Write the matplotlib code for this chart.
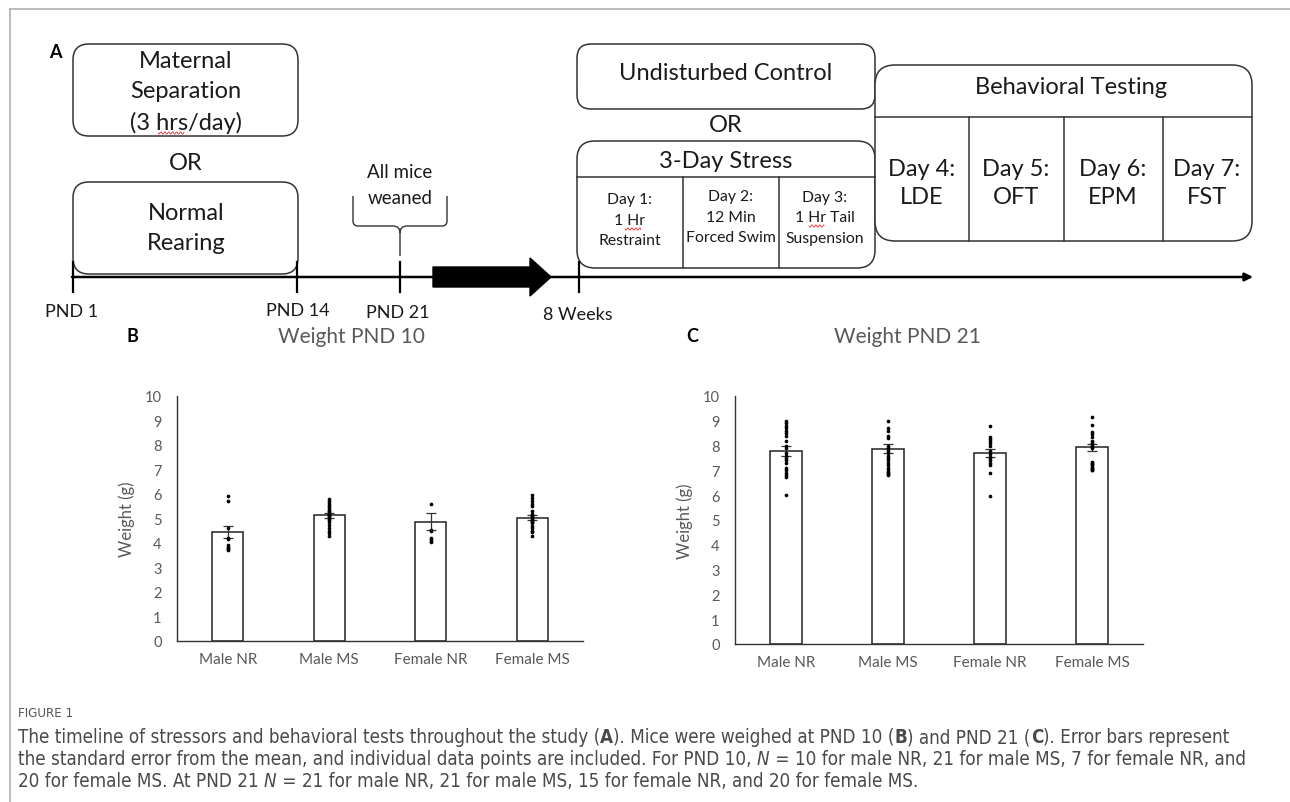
import numpy as np
import matplotlib
matplotlib.use('Agg')
import matplotlib.pyplot as plt
from matplotlib import font_manager
from matplotlib.patches import FancyBboxPatch, PathPatch, Polygon
from matplotlib.path import Path

plt.rcParams['font.family'] = ['Lato', 'DejaVu Sans']

# ---------- data (panels B and C) ----------
categories = ['Male NR', 'Male MS', 'Female NR', 'Female MS']

pnd10_mean = [4.45, 5.13, 4.87, 5.03]
pnd10_sem = [0.23, 0.10, 0.35, 0.10]
pnd10_points = [
    [5.93, 5.72, 4.62, 4.20, 4.15, 3.92, 3.85, 3.80, 3.75, 3.70],
    [5.78, 5.70, 5.62, 5.55, 5.50, 5.42, 5.35, 5.30, 5.25, 5.20, 5.15,
     5.10, 5.05, 5.00, 4.95, 4.85, 4.75, 4.60, 4.50, 4.40, 4.30],
    [5.58, 4.52, 4.48, 4.20, 4.15, 4.10, 4.05],
    [5.95, 5.85, 5.70, 5.60, 5.50, 5.30, 5.20, 5.15, 5.10, 5.05, 5.00,
     4.95, 4.90, 4.85, 4.80, 4.70, 4.60, 4.50, 4.45, 4.30],
]

pnd21_mean = [7.80, 7.88, 7.70, 7.93]
pnd21_sem = [0.20, 0.17, 0.17, 0.13]
pnd21_points = [
    [9.00, 8.90, 8.80, 8.70, 8.60, 8.50, 8.40, 8.20, 8.00, 7.90, 7.70,
     7.60, 7.50, 7.40, 7.30, 7.10, 7.00, 6.90, 6.80, 6.75, 6.00],
    [9.00, 8.70, 8.60, 8.40, 8.30, 8.00, 7.90, 7.85, 7.80, 7.70, 7.60,
     7.50, 7.40, 7.30, 7.20, 7.10, 7.00, 6.95, 6.90, 6.85, 6.80],
    [8.80, 8.35, 8.25, 8.20, 8.10, 8.00, 7.80, 7.65, 7.55, 7.50, 7.40,
     7.30, 7.20, 6.90, 5.95],
    [9.15, 8.85, 8.55, 8.45, 8.35, 8.20, 8.10, 8.05, 8.00, 7.95, 7.90,
     7.35, 7.30, 7.25, 7.20, 7.15, 7.10, 7.05, 7.00, 7.00],
]

W, H = 1290, 803
fig = plt.figure(figsize=(W / 100, H / 100), dpi=100)
fig.patch.set_facecolor('white')

# overlay axes in pixel coordinates for the timeline diagram
ov = fig.add_axes([0, 0, 1, 1])
ov.set_xlim(0, W)
ov.set_ylim(H, 0)
ov.set_axis_off()

TXT = '#1a1a1a'
GRAY = '#595959'
BIG = 17
MID = 13
SMALL = 11.3

# card border (top and left)
ov.plot([10, W], [10, 10], color='#b0b0b0', lw=1.2)
ov.plot([10, 10], [10, H], color='#b0b0b0', lw=1.2)


def rbox(x0, y0, x1, y1, r=14):
    p = FancyBboxPatch((x0 + r, y0 + r), (x1 - x0) - 2 * r, (y1 - y0) - 2 * r,
                       boxstyle='round,pad=%d,rounding_size=%d' % (r, r),
                       fc='white', ec='#333333', lw=1.1)
    ov.add_patch(p)


def t(x, y, s, size=BIG, **kw):
    return ov.text(x, y, s, fontsize=size, color=kw.pop('color', TXT),
                   ha=kw.pop('ha', 'center'), va=kw.pop('va', 'center'), **kw)


def squiggle(x0, x1, y):
    xs = np.linspace(x0, x1, int((x1 - x0) * 1.5))
    ov.plot(xs, y + 1.2 * np.sin((xs - x0) * 1.6), color='#e03030', lw=0.6)


# panel A
t(55, 52, 'A', size=13, weight='bold', color='black')

rbox(73, 45, 298, 137, r=16)
t(186, 61, 'Maternal')
t(186, 92, 'Separation')
t(186, 123, '(3 hrs/day)')
squiggle(158, 184, 134)
t(186, 163, 'OR')
rbox(73, 183, 298, 275, r=16)
t(186, 213, 'Normal')
t(186, 243, 'Rearing')

# brace over PND 21
verts = [(353, 197), (353, 222), (353, 227), (358, 227), (393, 227),
         (400, 227), (400, 234), (400, 257),
         (447, 197), (447, 222), (447, 227), (442, 227), (407, 227),
         (400, 227), (400, 234)]
codes = [Path.MOVETO, Path.LINETO, Path.CURVE3, Path.CURVE3, Path.LINETO,
         Path.CURVE3, Path.CURVE3, Path.LINETO,
         Path.MOVETO, Path.LINETO, Path.CURVE3, Path.CURVE3, Path.LINETO,
         Path.CURVE3, Path.CURVE3]
ov.add_patch(PathPatch(Path(verts, codes), fc='none', ec='#333333', lw=1.0))
t(400, 173, 'All mice', size=13.5)
t(400, 198, 'weaned', size=13.5)

# right part of panel A
rbox(577, 45, 875, 110, r=14)
t(726, 73, 'Undisturbed Control')
t(726, 126, 'OR')

rbox(577, 142, 875, 269, r=18)
ov.plot([577, 875], [178, 178], color='#333333', lw=1.1)
for xv in [683, 779]:
    ov.plot([xv, xv], [178, 269], color='#333333', lw=1.1)
t(726, 161, '3-Day Stress')
t(630, 200, 'Day 1:', size=SMALL)
t(630, 221, '1 Hr', size=SMALL)
t(630, 241, 'Restraint', size=SMALL)
squiggle(625, 641, 230)
t(731, 197, 'Day 2:', size=SMALL)
t(731, 218, '12 Min', size=SMALL)
t(731, 238, 'Forced Swim', size=SMALL)
t(825, 198, 'Day 3:', size=SMALL)
t(825, 218, '1 Hr Tail', size=SMALL)
t(825, 239, 'Suspension', size=SMALL)
squiggle(809, 824, 227)

rbox(875, 66, 1252, 242, r=20)
ov.plot([875, 1252], [118, 118], color='#333333', lw=1.1)
for xv in [969, 1064, 1163]:
    ov.plot([xv, xv], [118, 242], color='#333333', lw=1.1)
t(1071, 87, 'Behavioral Testing')
for cx, d, lab in [(922, 'Day 4:', 'LDE'), (1016, 'Day 5:', 'OFT'),
                   (1113, 'Day 6:', 'EPM'), (1207, 'Day 7:', 'FST')]:
    t(cx, 169, d)
    t(cx, 197, lab)

# timeline
ov.annotate('', xy=(1253, 278), xytext=(72, 278),
            arrowprops=dict(arrowstyle='-|>', lw=1.8, color='black',
                            mutation_scale=12, shrinkA=0, shrinkB=0))
for xv in [73, 297, 400, 579]:
    ov.plot([xv, xv], [263, 293], color='black', lw=1.6)
ov.add_patch(Polygon([(433, 268), (530, 268), (530, 259), (551, 278),
                      (530, 297), (530, 288), (433, 288)], closed=True,
                     fc='black', ec='black'))
t(72, 312, 'PND 1', size=MID)
t(298, 311, 'PND 14', size=MID)
t(398, 313, 'PND 21', size=MID)
t(578, 315, '8 Weeks', size=MID)


# ---------- panels B and C ----------
def bar_panel(px0, px1, py0, py10, means, sems, points):
    ax = fig.add_axes([px0 / W, 1 - py0 / H, (px1 - px0) / W, (py0 - py10) / H])
    x = np.arange(len(categories))
    ax.bar(x, means, width=0.31, color='white', edgecolor='#222222', lw=1.1, zorder=2)
    ax.errorbar(x, means, yerr=sems, fmt='none', ecolor='#333333',
                elinewidth=0.9, capsize=3.5, capthick=0.9, zorder=3)
    for i, pts in enumerate(points):
        ax.scatter(np.full(len(pts), i), pts, s=7, color='black', marker='o',
                   linewidths=0, zorder=4)
    ax.set_xlim(-0.5, len(categories) - 0.5)
    ax.set_ylim(0, 10)
    ax.set_yticks(range(11))
    ax.set_xticks(x)
    ax.set_xticklabels(categories)
    ax.tick_params(length=0, colors=GRAY)
    ax.tick_params(axis='y', pad=11, labelsize=10.5)
    ax.tick_params(axis='x', pad=8, labelsize=11)
    for s in ['top', 'right']:
        ax.spines[s].set_visible(False)
    for s in ['left', 'bottom']:
        ax.spines[s].set_color('#333333')
        ax.spines[s].set_linewidth(1.0)
    ax.set_ylabel('Weight (g)', color=GRAY, fontsize=12, labelpad=7)
    ax.patch.set_alpha(0)
    return ax


bar_panel(177, 583, 642, 397, pnd10_mean, pnd10_sem, pnd10_points)
bar_panel(735, 1143, 645, 397, pnd21_mean, pnd21_sem, pnd21_points)
t(132, 337, 'B', size=13, weight='bold', color='black')
t(351, 337, 'Weight PND 10', size=15, color=GRAY)
t(692, 337, 'C', size=13, weight='bold', color='black')
t(907, 337, 'Weight PND 21', size=15, color=GRAY)

# ---------- caption ----------
renderer = fig.canvas.get_renderer()
CAP = '#4a4a4a'

# the caption uses a narrow face in the figure; use one if the system has it
cap_font = {'family': ['Lato']}
narrow = ('condensed', 'semi-condensed', 'extra-condensed', 'ultra-condensed')
for f in font_manager.fontManager.ttflist:
    if f.stretch in narrow or 'Narrow' in f.name or 'Condensed' in f.name:
        cap_font = {'family': [f.name], 'stretch': f.stretch}
        break


def seg_width(s, size, **kw):
    a = ov.text(0, 0, 'x' + s + 'x', fontsize=size, **cap_font, **kw)
    b = ov.text(0, 0, 'xx', fontsize=size, **cap_font, **kw)
    w = a.get_window_extent(renderer).width - b.get_window_extent(renderer).width
    a.remove()
    b.remove()
    return w


def rich(x, y, parts, size):
    for s, kw in parts:
        ov.text(x, y, s, fontsize=size, color=CAP, ha='left', va='center',
                **cap_font, **kw)
        x += seg_width(s, size, **kw)


N = {}
B = {'weight': 'bold'}
I = {'style': 'italic'}
line1 = [('The timeline of stressors and behavioral tests throughout the study (', N),
         ('A', B), ('). Mice were weighed at PND 10 (', N), ('B', B),
         (') and PND 21 (', N), ('C', B), ('). Error bars represent', N)]
line2 = [('the standard error from the mean, and individual data points are included. For PND 10, ', N),
         ('N', I), (' = 10 for male NR, 21 for male MS, 7 for female NR, and', N)]
line3 = [('20 for female MS. At PND 21 ', N), ('N', I),
         (' = 21 for male NR, 21 for male MS, 15 for female NR, and 20 for female MS.', N)]

# fit the caption size so that the first line spans the same width as in the figure
w10 = sum(seg_width(s, 10, **kw) for s, kw in line1)
cap_size = min(10 * 1218 / w10, 13.5)

ov.text(18, 714, 'FIGURE 1', fontsize=9.5, color='#555555',
        ha='left', va='center', **cap_font)
rich(18, 738, line1, cap_size)
rich(18, 760, line2, cap_size)
rich(18, 782, line3, cap_size)

fig.savefig('out.png', dpi=100, facecolor='white')
